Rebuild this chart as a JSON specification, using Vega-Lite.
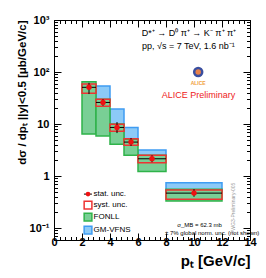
{
  "$schema": "https://vega.github.io/schema/vega-lite/v6.json",
  "width": 196,
  "height": 220,
  "autosize": "none",
  "padding": {"left": 54, "top": 20, "right": 16, "bottom": 38},
  "background": "white",
  "config": {
    "view": {"stroke": "black", "strokeWidth": 1},
    "font": "Liberation Sans",
    "axis": {"domainColor": "black", "tickColor": "black", "labelColor": "black", "titleColor": "black", "grid": false, "labelFont": "Liberation Sans", "titleFont": "Liberation Sans"}
  },
  "datasets": {
    "fonll": [
      {"xlo": 2, "xhi": 3, "lo": 6.4, "hi": 65},
      {"xlo": 3, "xhi": 4, "lo": 5.9, "hi": 30},
      {"xlo": 4, "xhi": 5, "lo": 4.1, "hi": 10},
      {"xlo": 5, "xhi": 6, "lo": 2.5, "hi": 5.1},
      {"xlo": 6, "xhi": 8, "lo": 1.23, "hi": 2.5},
      {"xlo": 8, "xhi": 12, "lo": 0.33, "hi": 0.56}
    ],
    "gmvfns": [
      {"xlo": 3, "xhi": 4, "lo": 28, "hi": 54},
      {"xlo": 4, "xhi": 5, "lo": 9.5, "hi": 19.4},
      {"xlo": 5, "xhi": 6, "lo": 4.9, "hi": 8.6},
      {"xlo": 6, "xhi": 8, "lo": 2.4, "hi": 3.16},
      {"xlo": 8, "xhi": 12, "lo": 0.5, "hi": 0.74}
    ],
    "meas": [
      {"xlo": 2, "xhi": 3, "xc": 2.5, "val": 50.8, "slo": 39, "shi": 58.6, "elo": 37.7, "ehi": 62},
      {"xlo": 3, "xhi": 4, "xc": 3.5, "val": 26, "slo": 22, "shi": 29.9, "elo": 22.5, "ehi": 30},
      {"xlo": 4, "xhi": 5, "xc": 4.5, "val": 8.6, "slo": 7.3, "shi": 9.9, "elo": 6.7, "ehi": 10.9},
      {"xlo": 5, "xhi": 6, "xc": 5.5, "val": 4.5, "slo": 3.9, "shi": 5.2, "elo": 3.8, "ehi": 5.4},
      {"xlo": 6, "xhi": 8, "xc": 7, "val": 2.15, "slo": 1.8, "shi": 2.5, "elo": 1.85, "ehi": 2.5},
      {"xlo": 8, "xhi": 12, "xc": 10, "val": 0.47, "slo": 0.36, "shi": 0.54, "elo": 0.4, "ehi": 0.56}
    ],
    "one": [{}]
  },
  "resolve": {"axis": {"x": "independent", "y": "independent"}},
  "layer": [
    {
      "data": {"name": "gmvfns"},
      "mark": {"type": "rect", "fill": "#8ccaf7", "stroke": "#3f9cf2", "strokeWidth": 1.5},
      "encoding": {
        "x": {"field": "xlo", "type": "quantitative", "scale": {"domain": [0, 14], "nice": false, "zero": false},
          "axis": {"orient": "top", "values": [0,0.4,0.8,1.2,1.6,2,2.4,2.8,3.2,3.6,4,4.4,4.8,5.2,5.6,6,6.4,6.8,7.2,7.6,8,8.4,8.8,9.2,9.6,10,10.4,10.8,11.2,11.6,12,12.4,12.8,13.2,13.6,14], "labels": false, "title": null,
            "tickSize": {"condition": {"test": "datum.value%2==0", "value": -7}, "value": -3.5}}},
        "x2": {"field": "xhi"},
        "y": {"field": "lo", "type": "quantitative", "scale": {"type": "log", "domain": [0.059, 1000], "nice": false},
          "axis": {"orient": "left", "values": [0.06,0.07,0.08,0.09,0.1,0.2,0.3,0.4,0.5,0.6,0.7,0.8,0.9,1,2,3,4,5,6,7,8,9,10,20,30,40,50,60,70,80,90,100,200,300,400,500,600,700,800,900,1000], "labels": false, "title": null, "domain": false,
            "tickSize": {"condition": {"test": "datum.value==0.1||datum.value==1||datum.value==10||datum.value==100||datum.value==1000", "value": -7}, "value": -3.5}}},
        "y2": {"field": "hi"}
      }
    },
    {
      "data": {"name": "fonll"},
      "mark": {"type": "rect", "fill": "#79cf95", "stroke": "#2fb34a", "strokeWidth": 1.5},
      "encoding": {
        "x": {"field": "xlo", "type": "quantitative",
          "axis": {"orient": "bottom", "values": [0,0.4,0.8,1.2,1.6,2,2.4,2.8,3.2,3.6,4,4.4,4.8,5.2,5.6,6,6.4,6.8,7.2,7.6,8,8.4,8.8,9.2,9.6,10,10.4,10.8,11.2,11.6,12,12.4,12.8,13.2,13.6,14],
            "labelExpr": "datum.value%2==0 ? '' + datum.value : ''", "labelFontSize": 11, "labelFontWeight": "bold", "labelPadding": 3, "labelFlush": false, "labelOverlap": false,
            "tickSize": {"condition": {"test": "datum.value%2==0", "value": -7}, "value": -3.5},
            "title": "pₜ  [GeV/c]", "titleFontSize": 15, "titleFontWeight": "bold", "titleAnchor": "end", "titlePadding": 3}},
        "x2": {"field": "xhi"},
        "y": {"field": "lo", "type": "quantitative",
          "axis": {"orient": "left", "values": [0.1, 1, 10, 100, 1000],
            "labelExpr": "datum.value < 0.5 ? '10⁻¹' : datum.value < 5 ? '1' : datum.value < 50 ? '10' : datum.value < 500 ? '10²' : '10³'",
            "labelFontSize": 11, "labelFontWeight": "bold", "labelPadding": 5, "labelFlush": false, "labelOverlap": false, "labelBound": false,
            "ticks": false, "domain": false,
            "title": "dσ / dpₜ ||y|<0.5  [μb/GeV/c]", "titleFontSize": 11.5, "titleFontWeight": "bold", "titleAnchor": "end", "titlePadding": 2}},
        "y2": {"field": "hi"}
      }
    },
    {
      "data": {"name": "meas"},
      "mark": {"type": "rect", "fill": null, "stroke": "#ee3333", "strokeWidth": 1.5},
      "encoding": {
        "x": {"field": "xlo", "type": "quantitative", "axis": null},
        "x2": {"field": "xhi"},
        "y": {"field": "slo", "type": "quantitative",
          "axis": {"orient": "right", "values": [0.06,0.07,0.08,0.09,0.1,0.2,0.3,0.4,0.5,0.6,0.7,0.8,0.9,1,2,3,4,5,6,7,8,9,10,20,30,40,50,60,70,80,90,100,200,300,400,500,600,700,800,900,1000], "labels": false, "title": null,
            "tickSize": {"condition": {"test": "datum.value==0.1||datum.value==1||datum.value==10||datum.value==100||datum.value==1000", "value": -7}, "value": -3.5}}},
        "y2": {"field": "shi"}
      }
    },
    {
      "data": {"name": "meas"},
      "mark": {"type": "rule", "color": "black", "strokeWidth": 1},
      "encoding": {
        "x": {"field": "xlo", "type": "quantitative", "axis": null},
        "x2": {"field": "xhi"},
        "y": {"field": "val", "type": "quantitative", "axis": null}
      }
    },
    {
      "data": {"name": "meas"},
      "mark": {"type": "rule", "color": "black", "strokeWidth": 1},
      "encoding": {
        "x": {"field": "xc", "type": "quantitative", "axis": null},
        "y": {"field": "elo", "type": "quantitative", "axis": null},
        "y2": {"field": "ehi"}
      }
    },
    {
      "data": {"name": "meas"},
      "mark": {"type": "point", "shape": "circle", "filled": true, "color": "#ee1111", "size": 30, "opacity": 1},
      "encoding": {
        "x": {"field": "xc", "type": "quantitative", "axis": null},
        "y": {"field": "val", "type": "quantitative", "axis": null}
      }
    },
    {
      "data": {"name": "one"},
      "mark": {"type": "text", "fontSize": 9, "align": "center", "color": "black"},
      "encoding": {"x": {"datum": 9.64, "axis": null}, "y": {"datum": 575, "axis": null}, "text": {"value": "D*⁺ → D⁰ π⁺ → K⁻ π⁺ π⁺"}}
    },
    {
      "data": {"name": "one"},
      "mark": {"type": "text", "fontSize": 9, "align": "center", "color": "black"},
      "encoding": {"x": {"datum": 9.6, "axis": null}, "y": {"datum": 313, "axis": null}, "text": {"value": "pp, √s = 7 TeV, 1.6 nb⁻¹"}}
    },
    {
      "data": {"name": "one"},
      "mark": {"type": "point", "shape": "circle", "filled": true, "color": "#3a4fa0", "size": 110, "opacity": 1},
      "encoding": {"x": {"datum": 10.3, "axis": null}, "y": {"datum": 100, "axis": null}}
    },
    {
      "data": {"name": "one"},
      "mark": {"type": "point", "shape": "circle", "filled": true, "color": "#e8824a", "size": 30, "opacity": 1},
      "encoding": {"x": {"datum": 10.3, "axis": null}, "y": {"datum": 100, "axis": null}}
    },
    {
      "data": {"name": "one"},
      "mark": {"type": "text", "fontSize": 5, "fontWeight": "bold", "align": "center", "color": "#f0a040"},
      "encoding": {"x": {"datum": 10.3, "axis": null}, "y": {"datum": 62, "axis": null}, "text": {"value": "ALICE"}}
    },
    {
      "data": {"name": "one"},
      "mark": {"type": "text", "fontSize": 9, "align": "center", "color": "#ee2222"},
      "encoding": {"x": {"datum": 10.32, "axis": null}, "y": {"datum": 36.6, "axis": null}, "text": {"value": "ALICE Preliminary"}}
    },
    {
      "data": {"name": "one"},
      "mark": {"type": "text", "fontSize": 6, "align": "center", "color": "black"},
      "encoding": {"x": {"datum": 10.4, "axis": null}, "y": {"datum": 0.113, "axis": null}, "text": {"value": "σ_MB = 62.3 mb"}}
    },
    {
      "data": {"name": "one"},
      "mark": {"type": "text", "fontSize": 6, "align": "center", "color": "black"},
      "encoding": {"x": {"datum": 11.3, "axis": null}, "y": {"datum": 0.079, "axis": null}, "text": {"value": "± 7% global norm. unc. (not shown)"}}
    },
    {
      "data": {"name": "one"},
      "mark": {"type": "text", "fontSize": 5, "align": "center", "angle": 270, "color": "#999999"},
      "encoding": {"x": {"datum": 12.75, "axis": null}, "y": {"datum": 0.24, "axis": null}, "text": {"value": "PWG3-Preliminary-005"}}
    },
    {
      "data": {"name": "one"},
      "mark": {"type": "rule", "color": "black", "strokeWidth": 1},
      "encoding": {"x": {"datum": 2.14, "axis": null}, "x2": {"datum": 2.71}, "y": {"datum": 0.45, "axis": null}}
    },
    {
      "data": {"name": "one"},
      "mark": {"type": "point", "shape": "circle", "filled": true, "color": "#ee1111", "size": 22, "opacity": 1},
      "encoding": {"x": {"datum": 2.43, "axis": null}, "y": {"datum": 0.45, "axis": null}}
    },
    {
      "data": {"name": "one"},
      "mark": {"type": "point", "shape": "square", "filled": false, "color": "#ee3333", "strokeWidth": 1.5, "size": 60, "opacity": 1},
      "encoding": {"x": {"datum": 2.43, "axis": null}, "y": {"datum": 0.277, "axis": null}}
    },
    {
      "data": {"name": "one"},
      "mark": {"type": "point", "shape": "square", "filled": true, "fill": "#79cf95", "stroke": "#2fb34a", "strokeWidth": 1.5, "size": 60, "opacity": 1},
      "encoding": {"x": {"datum": 2.43, "axis": null}, "y": {"datum": 0.163, "axis": null}}
    },
    {
      "data": {"name": "one"},
      "mark": {"type": "point", "shape": "square", "filled": true, "fill": "#8ccaf7", "stroke": "#3f9cf2", "strokeWidth": 1.5, "size": 60, "opacity": 1},
      "encoding": {"x": {"datum": 2.43, "axis": null}, "y": {"datum": 0.091, "axis": null}}
    },
    {
      "data": {"values": [
        {"label": "stat. unc.", "ly": 0.45},
        {"label": "syst. unc.", "ly": 0.277},
        {"label": "FONLL", "ly": 0.163},
        {"label": "GM-VFNS", "ly": 0.091}
      ]},
      "mark": {"type": "text", "fontSize": 8, "align": "left", "baseline": "middle", "color": "black"},
      "encoding": {"x": {"datum": 2.83, "axis": null}, "y": {"field": "ly", "type": "quantitative", "axis": null}, "text": {"field": "label"}}
    }
  ]
}
